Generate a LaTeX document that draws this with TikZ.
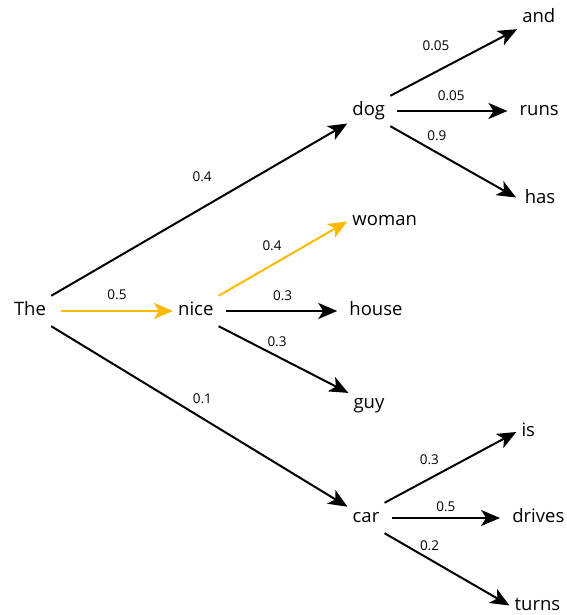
\documentclass[tikz,border=0pt]{standalone}
\usepackage{fontspec}
\setmainfont{Open Sans}
\usetikzlibrary{positioning,arrows.meta}
\definecolor{pickyellow}{RGB}{255,185,0}

\begin{document}
\begin{tikzpicture}[node distance=170pt, on grid,
        >={Stealth[length=19pt,width=16pt,inset=5pt]},
        every edge/.style={draw, line width=2pt},
        word/.style={font=\fontsize{18.5}{22}\selectfont, inner xsep=5pt, inner ysep=6.5pt,
            text height=13pt, text depth=4pt},
        prob/.style={font=\fontsize{13.5}{16}\selectfont, inner sep=0pt},
        picked/.style={draw=pickyellow},
        straight/.style={shorten <=7pt, shorten >=7pt}]
    \useasboundingbox (-30pt,-304pt) rectangle (536pt,311pt);
    % first word and its three followers
    \node[word] (The) {The};
    \node[word] (nice) [right=165.8pt of The] {nice};
    \node[word] (dog) [above right=200pt and 338.8pt of The] {dog};
    \node[word] (car) [below right=207pt and 336pt of The] {car};
    % second level
    \node[word] (woman) [above right=89.5pt and 188.9pt of nice] {woman};
    \node[word] (house) [right=180.2pt of nice] {house};
    \node[word] (guy) [below right=92.5pt and 173.2pt of nice] {guy};
    \node[word] (and) [above right=93.2pt and 170pt of dog] {and};
    \node[word] (runs) [right=170.4pt of dog] {runs};
    \node[word] (has) [below right=88.5pt and 171.2pt of dog] {has};
    \node[word] (is) [above right=86pt and 162.3pt of car] {is};
    \node[word] (drives) [right=172.3pt of car] {drives};
    \node[word] (turns) [below right=87.5pt and 171.5pt of car] {turns};
    \path[->]
        (The.north east)
            edge node[prob, pos=.51, above=25.4pt] {0.4} (dog)
        (The.east)
            edge [picked, shorten <=10pt] node[prob, pos=.54, above=10.7pt] {0.5} (nice.west)
        (The.south east)
            edge node[prob, pos=.51, above=13.2pt] {0.1} (car)
        (nice.north east)
            edge [picked] node[prob, pos=.415, above=12.8pt] {0.4} (woman.west)
        (nice.east)
            edge [straight] node[prob, pos=.51, above=9.7pt] {0.3} (house.west)
        (nice.south east)
            edge node[prob, pos=.45, above=8.9pt] {0.3} (guy)
        (dog.north east)
            edge node[prob, pos=.36, above=19.7pt] {0.05} (and)
        (dog.east)
            edge [straight] node[prob, pos=.49, above=8.9pt] {0.05} (runs.west)
        (dog.south east)
            edge [shorten >=4pt] node[prob, pos=.36, above=10.9pt] {0.9} (has.west)
        (car.north east)
            edge node[prob, pos=.34, above=13pt] {0.3} (is.west)
        (car.east)
            edge [straight] node[prob, pos=.5, above=4.9pt] {0.5} (drives.west)
        (car.south east)
            edge node[prob, pos=.36, above=7.9pt] {0.2} (turns.west);
\end{tikzpicture}
\end{document}
